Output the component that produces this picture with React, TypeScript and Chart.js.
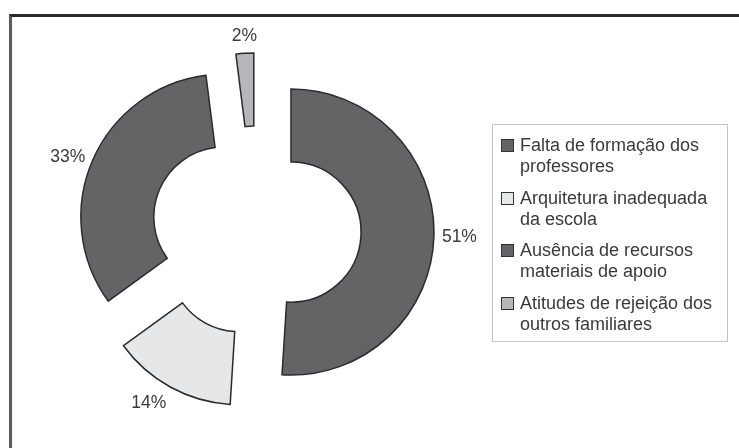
import React, { useEffect, useRef } from "react";
import { Chart, registerables } from "chart.js";

Chart.register(...registerables);

const categories: string[] = [
  "Falta de formação dos professores",
  "Arquitetura inadequada da escola",
  "Ausência de recursos materiais de apoio",
  "Atitudes de rejeição dos outros familiares",
];
const legendLines: string[][] = [
  ["Falta de formação dos", "professores"],
  ["Arquitetura inadequada", "da escola"],
  ["Ausência de recursos", "materiais de apoio"],
  ["Atitudes de rejeição dos", "outros familiares"],
];
const values: number[] = [51, 14, 33, 2];
const colors: string[] = ["#646466", "#e6e7e9", "#646466", "#b6b6bb"];

const EXPLODE = 35;
const FONT = '"Liberation Sans", Arial, sans-serif';

const explodePlugin = {
  id: "explode",
  beforeDatasetDraw(chart: any, args: any) {
    const ctx = chart.ctx;
    const meta = args.meta;
    meta.data.forEach((arc: any) => {
      const mid = (arc.startAngle + arc.endAngle) / 2;
      ctx.save();
      ctx.translate(Math.cos(mid) * EXPLODE, Math.sin(mid) * EXPLODE);
      arc.draw(ctx);
      ctx.restore();
    });
    return false;
  },
  afterDatasetsDraw(chart: any) {
    const ctx = chart.ctx;
    const meta = chart.getDatasetMeta(0);
    const total = values.reduce((a, b) => a + b, 0);
    ctx.save();
    ctx.font = `17.5px ${FONT}`;
    ctx.fillStyle = "#3a3a3a";
    meta.data.forEach((arc: any, i: number) => {
      const mid = (arc.startAngle + arc.endAngle) / 2;
      const c = Math.cos(mid);
      const s = Math.sin(mid);
      const r = arc.outerRadius + EXPLODE + 8;
      const x = arc.x + c * r;
      const y = arc.y + s * r;
      ctx.textAlign = c > 0.15 ? "left" : c < -0.15 ? "right" : "center";
      ctx.textBaseline = s > 0.5 ? "top" : s < -0.5 ? "bottom" : "middle";
      const pct = Math.round((values[i] / total) * 100);
      ctx.fillText(`${pct}%`, x, y);
    });
    ctx.restore();
  },
};

export default function App() {
  const canvasRef = useRef<HTMLCanvasElement | null>(null);

  useEffect(() => {
    if (!canvasRef.current) return;
    const chart = new Chart(canvasRef.current, {
      type: "doughnut",
      data: {
        labels: categories,
        datasets: [
          {
            data: values,
            backgroundColor: colors,
            borderColor: "#2b2b2b",
            borderWidth: 1.5,
            borderJoinStyle: "miter",
          } as any,
        ],
      },
      options: {
        animation: false,
        responsive: false,
        maintainAspectRatio: false,
        radius: 143,
        cutout: "49%",
        layout: { padding: 0 },
        plugins: {
          legend: { display: false },
          tooltip: { enabled: false },
        },
      } as any,
      plugins: [explodePlugin],
    });
    return () => chart.destroy();
  }, []);

  return (
    <div
      style={{
        position: "fixed",
        left: 0,
        top: 0,
        width: 739,
        height: 448,
        background: "#fff",
        overflow: "hidden",
        fontFamily: FONT,
      }}
    >
      <div
        style={{
          position: "absolute",
          left: 9,
          top: 14,
          right: -10,
          bottom: -10,
          borderTop: "3px solid #2a2a2a",
          borderLeft: "3px solid #5a5a5a",
        }}
      />
      <canvas
        ref={canvasRef}
        width={480}
        height={424}
        style={{ position: "absolute", left: 16, top: 19, width: 480, height: 424 }}
      />
      <div
        style={{
          position: "absolute",
          left: 492,
          top: 124,
          width: 234,
          height: 216,
          border: "1px solid #c4c4c4",
          boxSizing: "content-box",
        }}
      >
        {legendLines.map((lines, i) => (
          <div
            key={i}
            style={{
              position: "absolute",
              left: 0,
              top: 10 + i * 52.5,
              width: 234,
            }}
          >
            <div
              style={{
                position: "absolute",
                left: 8,
                top: 4,
                width: 11,
                height: 11,
                background: colors[i],
                border: "1.5px solid #333",
              }}
            />
            <div
              style={{
                position: "absolute",
                left: 27,
                top: 0,
                fontSize: 18,
                lineHeight: "21px",
                color: "#3a3a3a",
                whiteSpace: "nowrap",
              }}
            >
              {lines.map((l, j) => (
                <div key={j}>{l}</div>
              ))}
            </div>
          </div>
        ))}
      </div>
    </div>
  );
}
